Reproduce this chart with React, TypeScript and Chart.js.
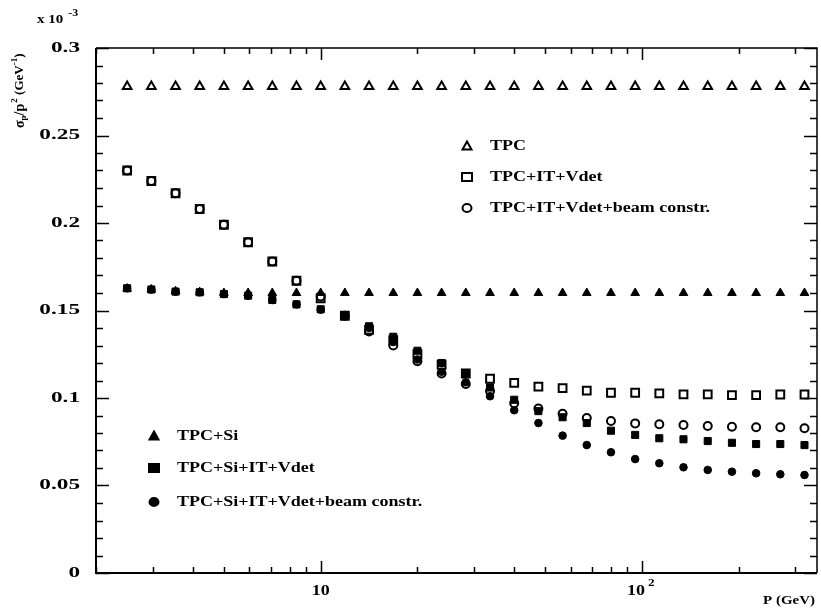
import React, { useEffect, useRef } from 'react';
import { Chart, registerables } from 'chart.js';
Chart.register(...registerables);

// Momentum values (GeV)
const P = [2.5, 2.973, 3.536, 4.204, 5, 5.946, 7.071, 8.409, 10, 11.89, 14.14, 16.82, 20, 23.78, 28.28, 33.64, 40, 47.57, 56.57, 67.27, 80, 95.14, 113.1, 134.5, 160, 190.3, 226.3, 269.1, 320];

// sigma_p / p^2 (x 10^-3 GeV^-1)
const TPC = [0.278, 0.278, 0.278, 0.278, 0.278, 0.278, 0.278, 0.278, 0.278, 0.278, 0.278, 0.278, 0.278, 0.278, 0.278, 0.278, 0.278, 0.278, 0.278, 0.278, 0.278, 0.278, 0.278, 0.278, 0.278, 0.278, 0.278, 0.278, 0.278];
const TPC_IT_VDET = [0.230, 0.224, 0.217, 0.208, 0.199, 0.189, 0.178, 0.167, 0.157, 0.147, 0.139, 0.133, 0.125, 0.119, 0.114, 0.111, 0.1086, 0.1065, 0.1057, 0.1042, 0.1030, 0.1030, 0.1027, 0.1021, 0.1021, 0.1017, 0.1017, 0.1020, 0.1020];
const TPC_IT_VDET_BEAM = [0.230, 0.224, 0.217, 0.208, 0.199, 0.189, 0.178, 0.167, 0.158, 0.147, 0.138, 0.130, 0.121, 0.114, 0.108, 0.104, 0.097, 0.094, 0.091, 0.0886, 0.0869, 0.0855, 0.0850, 0.0846, 0.0840, 0.0836, 0.0833, 0.0833, 0.0827];
const TPC_SI = [0.1625, 0.162, 0.161, 0.1605, 0.160, 0.160, 0.160, 0.160, 0.160, 0.160, 0.160, 0.160, 0.160, 0.160, 0.160, 0.160, 0.160, 0.160, 0.160, 0.160, 0.160, 0.160, 0.160, 0.160, 0.160, 0.160, 0.160, 0.160, 0.160];
const TPC_SI_IT_VDET = [0.1627, 0.162, 0.1608, 0.1604, 0.1594, 0.1585, 0.156, 0.1535, 0.1507, 0.1474, 0.141, 0.135, 0.127, 0.120, 0.114, 0.106, 0.099, 0.0925, 0.089, 0.0857, 0.0813, 0.0789, 0.0770, 0.0764, 0.0754, 0.0744, 0.0737, 0.0737, 0.0731];
const TPC_SI_IT_VDET_BEAM = [0.1627, 0.162, 0.1608, 0.1604, 0.1594, 0.1585, 0.156, 0.1535, 0.1505, 0.147, 0.140, 0.132, 0.122, 0.115, 0.109, 0.101, 0.093, 0.0857, 0.0785, 0.0731, 0.0690, 0.0651, 0.0627, 0.0604, 0.0589, 0.0579, 0.0570, 0.0564, 0.0560];

// Axis ticks and labels
const Y_MAJOR = [0, 0.05, 0.1, 0.15, 0.2, 0.25, 0.3];
const Y_LABELS = ['0', '0.05', '0.1', '0.15', '0.2', '0.25', '0.3'];
const X_MAJOR = [10, 100];
const X_LABELS = ['10', '10'];
const X_LABEL_EXP = ['', '2'];
const X_MINOR = [2, 3, 4, 5, 6, 7, 8, 9, 20, 30, 40, 50, 60, 70, 80, 90, 200, 300];

const LEGEND_TOP = ['TPC', 'TPC+IT+Vdet', 'TPC+IT+Vdet+beam constr.'];
const LEGEND_BOTTOM = ['TPC+Si', 'TPC+Si+IT+Vdet', 'TPC+Si+IT+Vdet+beam constr.'];

const SERIF = '"Liberation Serif", "DejaVu Serif", serif';

function drawText(ctx: CanvasRenderingContext2D, s: string, x: number, y: number, size: number, stretch: number, align: 'left' | 'right' | 'center', bold = true) {
  ctx.save();
  ctx.font = `${bold ? 'bold ' : ''}${size}px ${SERIF}`;
  const w = ctx.measureText(s).width * stretch;
  const x0 = align === 'left' ? x : align === 'right' ? x - w : x - w / 2;
  ctx.translate(x0, y);
  ctx.scale(stretch, 1);
  ctx.textAlign = 'left';
  ctx.textBaseline = 'middle';
  ctx.fillStyle = '#000';
  ctx.fillText(s, 0, 0);
  ctx.restore();
  return w;
}

function marker(ctx: CanvasRenderingContext2D, kind: string, filled: boolean, x: number, y: number) {
  ctx.save();
  ctx.beginPath();
  if (kind === 'triangle') {
    ctx.moveTo(x, y - 4.5);
    ctx.lineTo(x + 4.5, y + 3.5);
    ctx.lineTo(x - 4.5, y + 3.5);
    ctx.closePath();
  } else if (kind === 'rect') {
    ctx.rect(x - 5, y - 4, 10, 8);
  } else {
    ctx.ellipse(x, y, 4.5, 4, 0, 0, Math.PI * 2);
  }
  ctx.lineWidth = 2;
  ctx.strokeStyle = '#000';
  if (filled) {
    ctx.fillStyle = '#000';
    ctx.fill();
  }
  ctx.stroke();
  ctx.restore();
}

const framePlugin = {
  id: 'framePlugin',
  afterDraw(chart: any) {
    const { ctx, chartArea: a, scales } = chart;
    const xs = scales.x;
    const ys = scales.y;
    ctx.save();
    ctx.strokeStyle = '#000';
    // frame
    ctx.lineWidth = 2;
    ctx.beginPath();
    ctx.moveTo(a.left, a.top);
    ctx.lineTo(a.left, a.bottom);
    ctx.lineTo(a.right, a.bottom);
    ctx.stroke();
    ctx.lineWidth = 1.5;
    ctx.beginPath();
    ctx.moveTo(a.left, a.top);
    ctx.lineTo(a.right, a.top);
    ctx.lineTo(a.right, a.bottom);
    ctx.stroke();

    // y ticks
    ctx.lineWidth = 1.5;
    for (let i = 0; i <= 30; i++) {
      const v = i / 100;
      const py = Math.round(ys.getPixelForValue(v)) + 0.5;
      const major = i % 5 === 0;
      const len = major ? 13 : 7;
      ctx.beginPath();
      ctx.moveTo(a.left, py);
      ctx.lineTo(a.left + len, py);
      ctx.moveTo(a.right, py);
      ctx.lineTo(a.right - len, py);
      ctx.stroke();
    }
    // x ticks
    const xt = [...X_MAJOR.map((v) => [v, 12]), ...X_MINOR.map((v) => [v, 6])];
    for (const [v, len] of xt) {
      const px = Math.round(xs.getPixelForValue(v)) + 0.5;
      ctx.beginPath();
      ctx.moveTo(px, a.bottom);
      ctx.lineTo(px, a.bottom - len);
      ctx.moveTo(px, a.top);
      ctx.lineTo(px, a.top + len);
      ctx.stroke();
    }
    ctx.restore();

    // y labels
    Y_MAJOR.forEach((v, i) => {
      drawText(ctx, Y_LABELS[i], a.left - 16, ys.getPixelForValue(v), 15, 1.55, 'right');
    });
    // x labels
    X_MAJOR.forEach((v, i) => {
      const px = xs.getPixelForValue(v);
      if (X_LABEL_EXP[i]) {
        const w = drawText(ctx, X_LABELS[i], px - 6, a.bottom + 18, 15, 1.2, 'center');
        drawText(ctx, X_LABEL_EXP[i], px - 6 + w / 2 + 3, a.bottom + 10, 11, 1.2, 'left');
      } else {
        drawText(ctx, X_LABELS[i], px, a.bottom + 18, 15, 1.2, 'center');
      }
    });
    // x axis title
    drawText(ctx, 'P (GeV)', a.right - 2, a.bottom + 28, 13, 1.15, 'right');
    // exponent
    const w1 = drawText(ctx, 'x 10', 37, 20, 12, 1.25, 'left');
    drawText(ctx, '-3', 37 + w1 + 5, 13, 10, 1.2, 'left');

    // y axis title (rotated)
    ctx.save();
    ctx.translate(20, 128);
    ctx.rotate(-Math.PI / 2);
    let cx = 0;
    cx += drawText(ctx, 'σ', cx, 0, 14, 1.0, 'left');
    cx += drawText(ctx, 'p', cx, 4, 9, 1.0, 'left');
    cx += drawText(ctx, '/p', cx, 0, 14, 1.0, 'left');
    cx += drawText(ctx, '2', cx + 1, -5, 9, 1.0, 'left') + 1;
    cx += drawText(ctx, ' (GeV', cx, 0, 13, 1.0, 'left');
    cx += drawText(ctx, '-1', cx, -5, 9, 1.0, 'left');
    drawText(ctx, ')', cx, 0, 13, 1.0, 'left');
    ctx.restore();

    // legends
    const topKinds = ['triangle', 'rect', 'circle'];
    const topRows = [146, 177, 208];
    LEGEND_TOP.forEach((t, i) => {
      marker(ctx, topKinds[i], false, 467, topRows[i]);
      drawText(ctx, t, 490, topRows[i], 15, 1.2, 'left');
    });
    const botRows = [436, 468, 502];
    LEGEND_BOTTOM.forEach((t, i) => {
      marker(ctx, topKinds[i], true, 154, botRows[i]);
      drawText(ctx, t, 177, botRows[i], 15, 1.2, 'left');
    });
  },
};

function series(vals: number[]) {
  return P.map((p, i) => ({ x: p, y: vals[i] }));
}

export default function App() {
  const ref = useRef<HTMLCanvasElement>(null);
  useEffect(() => {
    if (!ref.current) return;
    const open = { backgroundColor: 'rgba(0,0,0,0)', borderColor: '#000', borderWidth: 2 };
    const fill = { backgroundColor: '#000', borderColor: '#000', borderWidth: 1 };
    const chart = new Chart(ref.current, {
      type: 'scatter',
      data: {
        datasets: [
          { label: 'TPC', data: series(TPC), pointStyle: 'triangle', pointRadius: 5, order: 3, ...open },
          { label: 'TPC+IT+Vdet', data: series(TPC_IT_VDET), pointStyle: 'rect', pointRadius: 5.5, order: 3, ...open },
          { label: 'TPC+IT+Vdet+beam constr.', data: series(TPC_IT_VDET_BEAM), pointStyle: 'circle', pointRadius: 4, order: 2, ...open },
          { label: 'TPC+Si', data: series(TPC_SI), pointStyle: 'triangle', pointRadius: 5, order: 1, ...fill },
          { label: 'TPC+Si+IT+Vdet', data: series(TPC_SI_IT_VDET), pointStyle: 'rect', pointRadius: 5, order: 0, ...fill },
          { label: 'TPC+Si+IT+Vdet+beam constr.', data: series(TPC_SI_IT_VDET_BEAM), pointStyle: 'circle', pointRadius: 3.8, order: 0, ...fill },
        ],
      },
      options: {
        responsive: false,
        animation: false,
        devicePixelRatio: 1,
        layout: { autoPadding: false, padding: { left: 96, right: 4, top: 48, bottom: 41 } },
        plugins: { legend: { display: false }, tooltip: { enabled: false } },
        scales: {
          x: { type: 'logarithmic', min: 2, max: 350, display: false },
          y: { type: 'linear', min: 0, max: 0.3, display: false },
        },
      },
      plugins: [framePlugin],
    });
    return () => chart.destroy();
  }, []);
  return (
    <div style={{ position: 'fixed', left: 0, top: 0, width: 821, height: 614, background: '#fff' }}>
      <canvas ref={ref} width={821} height={614} style={{ display: 'block' }} />
    </div>
  );
}
